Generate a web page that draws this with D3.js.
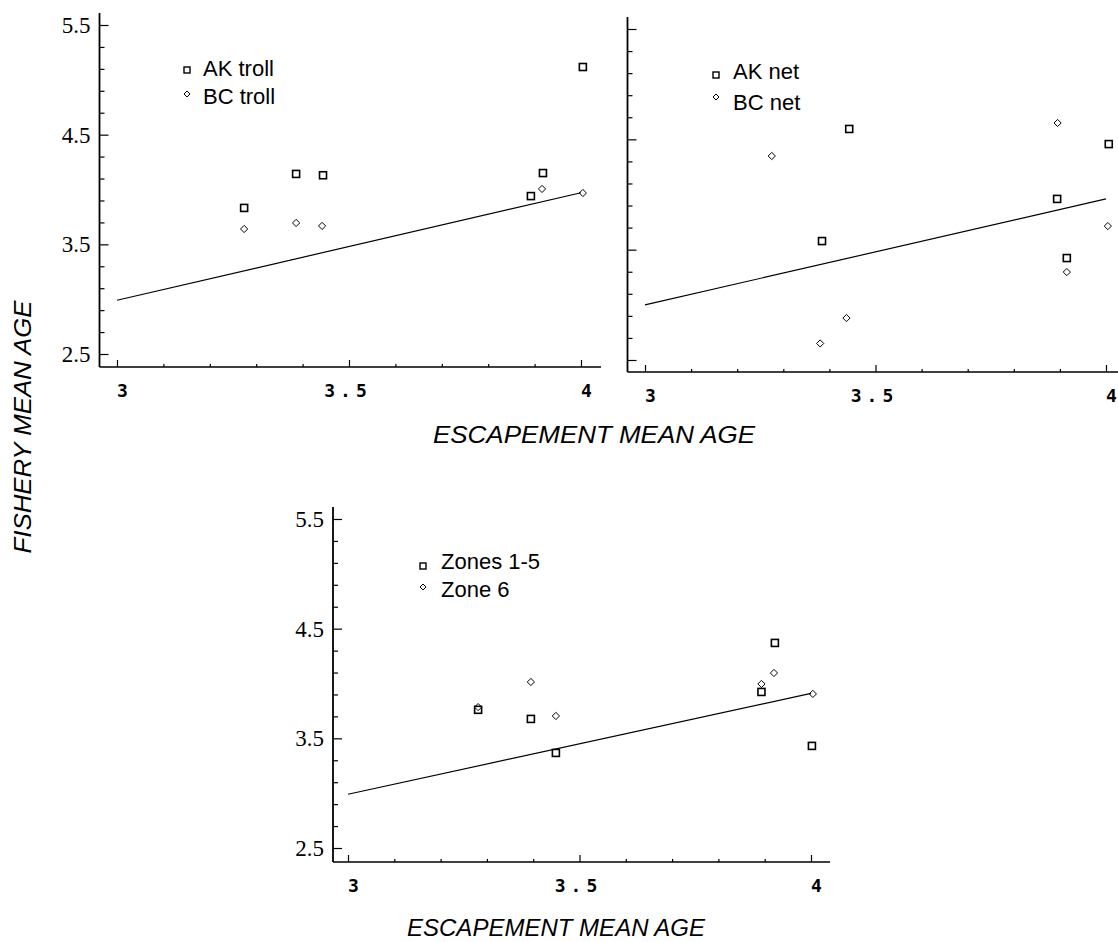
<!DOCTYPE html>
<html>
<head>
<meta charset="utf-8">
<script src="https://cdn.jsdelivr.net/npm/d3@7"></script>
<style>
  html, body { margin: 0; padding: 0; background: #fff; }
  svg { display: block; }
</style>
</head>
<body>
<div id="chart"></div>
<script>
// ---- data ----
var xTicks = [3, 3.5, 4];
var yTicks = [2.5, 3.5, 4.5, 5.5];

var akTroll = [[3.274, 3.832], [3.386, 4.142], [3.444, 4.13], [3.892, 3.94], [3.918, 4.15], [4.004, 5.117]];
var bcTroll = [[3.274, 3.64], [3.386, 3.695], [3.442, 3.668], [3.916, 4.005], [4.004, 3.968]];
var trollFit = [[3, 2.99], [4, 3.97]];

var akNet = [[3.384, 3.578], [3.443, 4.594], [3.894, 3.96], [3.915, 3.424], [4.006, 4.457]];
var bcNet = [[3.275, 4.349], [3.38, 2.65], [3.437, 2.88], [3.895, 4.648], [3.915, 3.297], [4.004, 3.714]];
var netFit = [[3, 3.0], [4, 3.96]];

var zones15 = [[3.281, 3.76], [3.395, 3.677], [3.449, 3.367], [3.893, 3.923], [3.922, 4.37], [4.002, 3.431]];
var zone6 = [[3.281, 3.785], [3.395, 4.014], [3.449, 3.704], [3.893, 3.996], [3.920, 4.096], [4.004, 3.905]];
var zonesFit = [[3, 2.99], [4, 3.91]];

var xTitle = "ESCAPEMENT MEAN AGE",
    yTitle = "FISHERY MEAN AGE";

// ---- layout ----
var width = 1118, height = 942;

var panels = [
  {x0: 117, x1: 581, yTop: 25, yBot: 354, axisX: 99.5, axisTop: 13, axisY: 367, axisRight: 601, yLabels: true,
   sq: akTroll, di: bcTroll, fit: trollFit, names: ["AK troll", "BC troll"],
   leg: {mx: 187, tx: 203, y1: 70, b1: 76, y2: 94, b2: 104}},
  {x0: 645, x1: 1106, yTop: 29, yBot: 360, axisX: 627.5, axisTop: 17, axisY: 372, axisRight: 1118, yLabels: false,
   sq: akNet, di: bcNet, fit: netFit, names: ["AK net", "BC net"],
   leg: {mx: 716, tx: 733, y1: 75, b1: 79, y2: 97, b2: 110}},
  {x0: 348, x1: 811, yTop: 519, yBot: 848, axisX: 333, axisTop: 507, axisY: 862, axisRight: 830, yLabels: true,
   sq: zones15, di: zone6, fit: zonesFit, names: ["Zones 1-5", "Zone 6"],
   leg: {mx: 423, tx: 441, y1: 566, b1: 569, y2: 587, b2: 597}}
];

var svg = d3.select("#chart").append("svg")
    .attr("width", width)
    .attr("height", height);

function diamond(s) {
  return "M0," + (-s) + "L" + s + ",0L0," + s + "L" + (-s) + ",0Z";
}

panels.forEach(function (p) {
  var x = d3.scaleLinear().domain([3, 4]).range([p.x0, p.x1]);
  var y = d3.scaleLinear().domain([2.5, 5.5]).range([p.yBot, p.yTop]);
  var g = svg.append("g");

  // axis lines
  g.append("line")
      .attr("x1", p.axisX).attr("x2", p.axisX)
      .attr("y1", p.axisTop).attr("y2", p.axisY)
      .attr("stroke", "#000").attr("stroke-width", 1.8);
  g.append("line")
      .attr("x1", p.axisX).attr("x2", p.axisRight)
      .attr("y1", p.axisY).attr("y2", p.axisY)
      .attr("stroke", "#000").attr("stroke-width", 1.6);

  // y ticks every 0.2, pointing inward
  var yAx = g.append("g")
      .attr("transform", "translate(" + p.axisX + ",0)")
      .call(d3.axisRight(y)
          .tickValues(d3.range(2.5, 5.51, 0.2))
          .tickSize(5)
          .tickFormat(""));
  yAx.select(".domain").remove();
  yAx.selectAll("line").attr("stroke-width", 1.2)
      .filter(function (d) { return Math.abs(d * 2 - Math.round(d * 2)) < 1e-6 && Math.round(d * 2) % 2 === 1; })
      .attr("x2", 9);

  if (p.yLabels) {
    var yLab = g.append("g")
        .attr("transform", "translate(" + (p.axisX - 9) + ",0)")
        .call(d3.axisLeft(y).tickValues(yTicks).tickSize(0).tickPadding(0).tickFormat(d3.format(".1f")));
    yLab.select(".domain").remove();
    yLab.selectAll("text")
        .attr("font-family", "'Liberation Serif', 'Times New Roman', serif")
        .attr("font-size", 23)
        .attr("fill", "#000")
        .attr("dy", "0.33em");
  }

  // x ticks every 0.1, pointing up
  var xAx = g.append("g")
      .attr("transform", "translate(0," + p.axisY + ")")
      .call(d3.axisTop(x)
          .tickValues(d3.range(3, 4.01, 0.1))
          .tickSize(3)
          .tickFormat(""));
  xAx.select(".domain").remove();
  xAx.selectAll("line").attr("stroke-width", 1.2)
      .filter(function (d) { return Math.abs(d * 2 - Math.round(d * 2)) < 1e-6; })
      .attr("y2", -7);

  g.selectAll("text.xlab")
      .data(xTicks)
      .join("text")
      .attr("class", "xlab")
      .attr("x", function (d) { return d % 1 === 0 ? x(d) : x(d) - 1; })
      .attr("y", p.axisY + 30)
      .attr("text-anchor", function (d) { return d % 1 === 0 ? "start" : "middle"; })
      .attr("font-family", "'DejaVu Sans Mono', monospace")
      .attr("font-weight", "bold")
      .attr("font-size", 18)
      .attr("letter-spacing", function (d) { return d % 1 === 0 ? 0 : 5; })
      .text(function (d) { return d; });

  // regression line
  g.append("path")
      .datum(p.fit)
      .attr("d", d3.line().x(function (d) { return x(d[0]); }).y(function (d) { return y(d[1]); }))
      .attr("fill", "none")
      .attr("stroke", "#000")
      .attr("stroke-width", 1.2);

  // points
  g.selectAll("rect.sq")
      .data(p.sq)
      .join("rect")
      .attr("class", "sq")
      .attr("x", function (d) { return x(d[0]) - 3.5; })
      .attr("y", function (d) { return y(d[1]) - 3.5; })
      .attr("width", 7).attr("height", 7)
      .attr("fill", "none").attr("stroke", "#000").attr("stroke-width", 1.6);

  g.selectAll("path.di")
      .data(p.di)
      .join("path")
      .attr("class", "di")
      .attr("transform", function (d) { return "translate(" + x(d[0]) + "," + y(d[1]) + ")"; })
      .attr("d", diamond(3.6))
      .attr("fill", "none").attr("stroke", "#000").attr("stroke-width", 1);

  // legend
  var L = p.leg;
  g.append("rect")
      .attr("x", L.mx - 3).attr("y", L.y1 - 3)
      .attr("width", 6).attr("height", 6)
      .attr("fill", "none").attr("stroke", "#000").attr("stroke-width", 1.4);
  g.append("path")
      .attr("transform", "translate(" + L.mx + "," + L.y2 + ")")
      .attr("d", diamond(3))
      .attr("fill", "none").attr("stroke", "#000").attr("stroke-width", 1);
  [[p.names[0], L.b1], [p.names[1], L.b2]].forEach(function (t) {
    g.append("text")
        .attr("x", L.tx).attr("y", t[1])
        .attr("font-family", "'Liberation Sans', Arial, sans-serif")
        .attr("font-size", 22)
        .text(t[0]);
  });
});

// axis titles
var titleFont = "'Liberation Sans', Arial, sans-serif";
svg.append("text")
    .attr("x", 594).attr("y", 443)
    .attr("text-anchor", "middle")
    .attr("font-family", titleFont).attr("font-style", "italic").attr("font-size", 24)
    .attr("textLength", 322).attr("lengthAdjust", "spacingAndGlyphs")
    .text(xTitle);
svg.append("text")
    .attr("x", 556).attr("y", 936)
    .attr("text-anchor", "middle")
    .attr("font-family", titleFont).attr("font-style", "italic").attr("font-size", 23)
    .attr("textLength", 298).attr("lengthAdjust", "spacingAndGlyphs")
    .text(xTitle);
svg.append("text")
    .attr("transform", "translate(31,427) rotate(-90)")
    .attr("text-anchor", "middle")
    .attr("font-family", titleFont).attr("font-style", "italic").attr("font-size", 24)
    .attr("textLength", 253).attr("lengthAdjust", "spacingAndGlyphs")
    .text(yTitle);
</script>
</body>
</html>
